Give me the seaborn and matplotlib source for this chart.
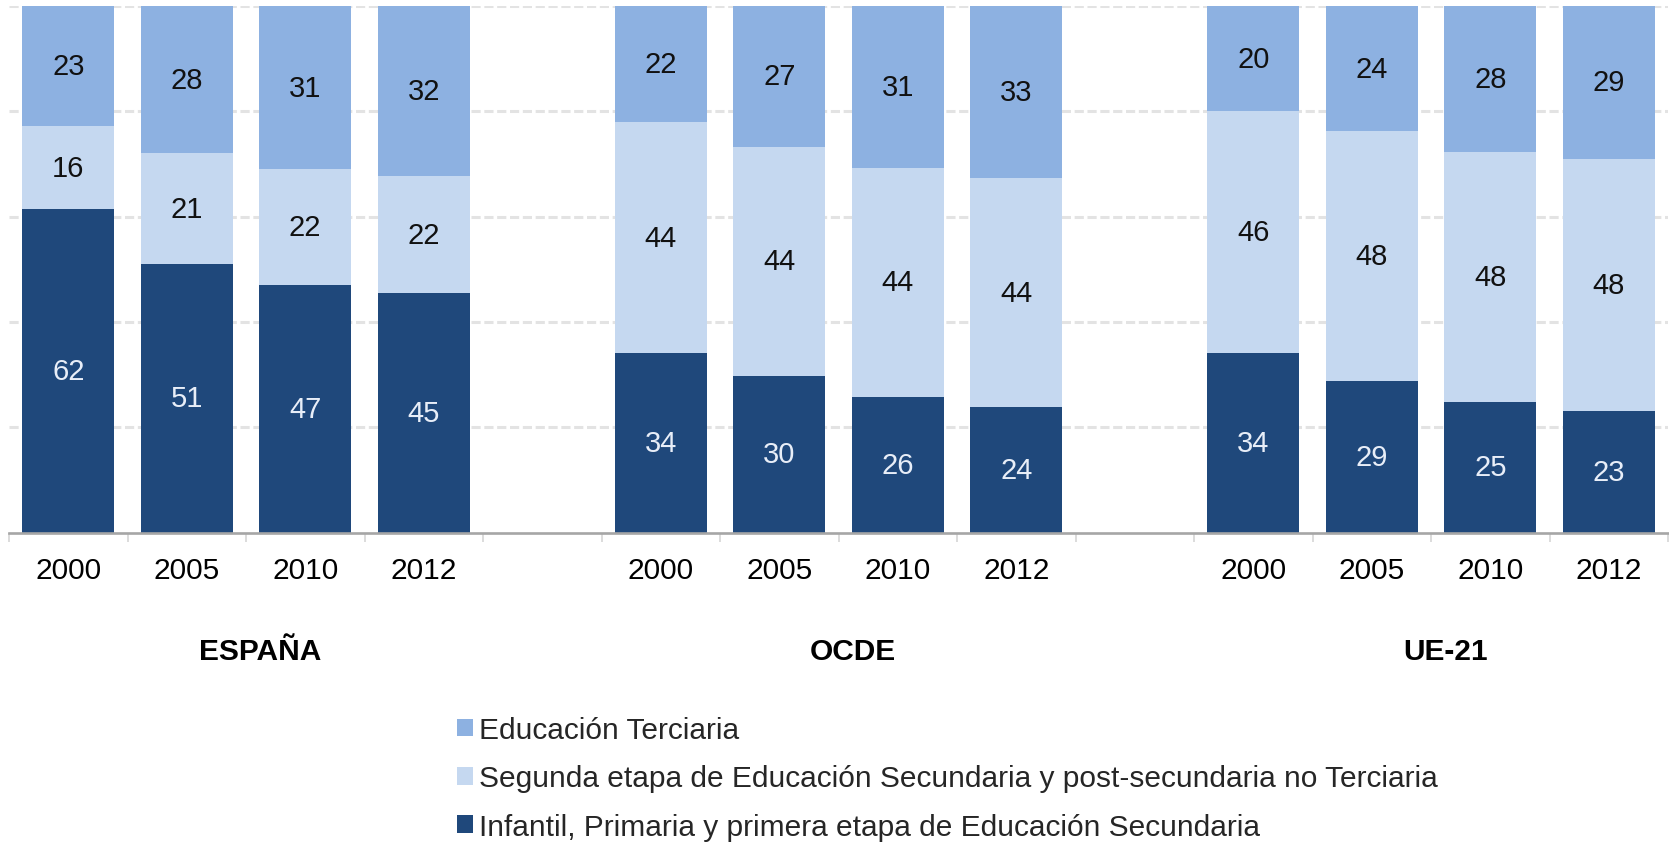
import numpy as np
import pandas as pd
import matplotlib
matplotlib.use("Agg")
import matplotlib.pyplot as plt
import matplotlib.transforms as mtransforms
from matplotlib.patches import Patch
import seaborn as sns

# ---------------- data ----------------
groups = ["ESPAÑA", "OCDE", "UE-21"]
years = ["2000", "2005", "2010", "2012"]
terciaria = [23, 28, 31, 32, 22, 27, 31, 33, 20, 24, 28, 29]
secundaria2 = [16, 21, 22, 22, 44, 44, 44, 44, 46, 48, 48, 48]
basica = [62, 51, 47, 45, 34, 30, 26, 24, 34, 29, 25, 23]
series_names = [
    "Educación Terciaria",
    "Segunda etapa de Educación Secundaria y post-secundaria no Terciaria",
    "Infantil, Primaria y primera etapa de Educación Secundaria",
]

# ---------------- style ----------------
sns.set_style("white")
plt.rcParams["font.family"] = ["Liberation Sans", "DejaVu Sans"]

c_top = "#8DB1E1"
c_mid = "#C5D8F0"
c_dark = "#1F487B"

slots = [f"{g} {y}" for g in groups for y in years]
order = slots[0:4] + ["_gap1"] + slots[4:8] + ["_gap2"] + slots[8:12]

t = np.array(terciaria, float)
s = np.array(secundaria2, float)
b = np.array(basica, float)
tot = t + s + b
df = pd.DataFrame({
    "slot": slots,
    "dark": b / tot * 100,
    "mid": (b + s) / tot * 100,
    "full": (b + s + t) / tot * 100,
})

W, H = 1669, 845
fig = plt.figure(figsize=(W / 100, H / 100), dpi=100)
ax = fig.add_axes([9 / W, 1 - 533.5 / H, (1668 - 9) / W, (533.5 - 7) / H])

bw = 0.78
for col, colr in [("full", c_top), ("mid", c_mid), ("dark", c_dark)]:
    sns.barplot(data=df, x="slot", y=col, order=order, color=colr, saturation=1,
                width=bw, errorbar=None, linewidth=0, ax=ax)

ax.set_xlim(-0.5, 13.5)
ax.set_ylim(0, 100)
ax.set_xlabel("")
ax.set_ylabel("")

# grid
ax.set_yticks([20, 40, 60, 80, 100])
ax.yaxis.grid(True, color="#e3e3e3", linewidth=2.2, linestyle=(0, (3, 1.2)))
ax.set_axisbelow(True)
ax.tick_params(axis="y", left=False, labelleft=False)

# x ticks
xlabels = years + [""] + years + [""] + years
ax.set_xticks(range(len(order)))
ax.set_xticklabels(xlabels, fontsize=21.5, color="#000000")
ax.set_xticks(np.arange(-0.5, len(order), 1), minor=True)
ax.tick_params(axis="x", which="major", bottom=True, length=0, pad=17)
ax.tick_params(axis="x", which="minor", bottom=True, length=6.5, width=1.4,
               color="#dcdcdc", direction="out")

for sp in ["left", "right", "top"]:
    ax.spines[sp].set_visible(False)
ax.spines["bottom"].set_color("#a6a6a6")
ax.spines["bottom"].set_linewidth(1.9)

# value labels
pos_map = {k: i for i, k in enumerate(order)}
for i, sl in enumerate(slots):
    x = pos_map[sl]
    d, m, f = df.loc[i, "dark"], df.loc[i, "mid"], df.loc[i, "full"]
    ax.text(x, d / 2, f"{basica[i]}", ha="center", va="center", fontsize=21, color="#e8eef8")
    ax.text(x, (d + m) / 2, f"{secundaria2[i]}", ha="center", va="center", fontsize=21, color="#111111")
    ax.text(x, (m + min(f, 100)) / 2, f"{terciaria[i]}", ha="center", va="center", fontsize=21, color="#111111")

# group labels
trans = mtransforms.blended_transform_factory(ax.transData, ax.transAxes)
for gi, g in enumerate(groups):
    xs = [pos_map[f"{g} {y}"] for y in years]
    xc = np.mean(xs) + 0.12
    ax.text(xc, -0.225, g, transform=trans, ha="center", va="center",
            fontsize=21.5, fontweight="bold", color="#000000")

# legend
handles = [Patch(facecolor=c, edgecolor="none") for c in [c_top, c_mid, c_dark]]
leg = fig.legend(handles, series_names, loc="upper left",
                 bbox_to_anchor=(457 / W, 1 - 717 / H), frameon=False,
                 fontsize=21.5, handlelength=0.54, handleheight=0.54,
                 handletextpad=0.2, labelspacing=0.68, borderpad=0, borderaxespad=0)

fig.savefig("out.png", dpi=100)
